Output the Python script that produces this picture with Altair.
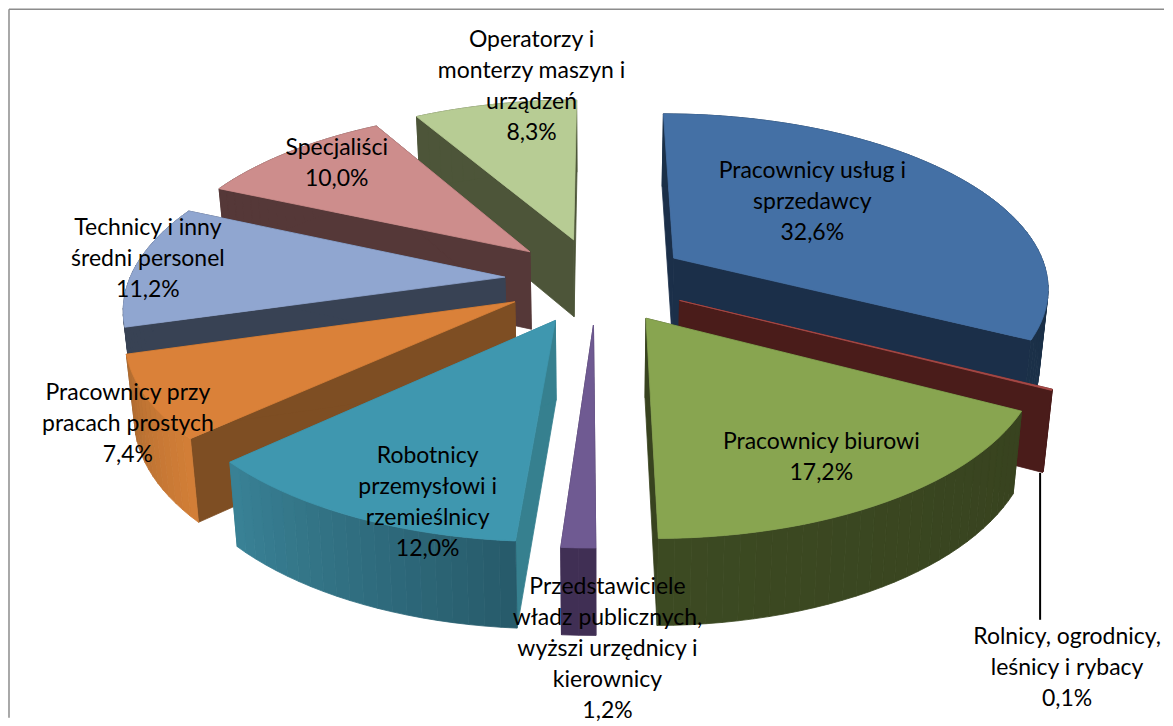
import math
import altair as alt

# ---- data
categories = ["Pracownicy usług i\nsprzedawcy", "Rolnicy, ogrodnicy,\nleśnicy i rybacy", "Pracownicy biurowi",
              "Przedstawiciele\nwładz publicznych,\nwyższi urzędnicy i\nkierownicy", "Robotnicy\nprzemysłowi i\nrzemieślnicy",
              "Pracownicy przy\npracach prostych", "Technicy i inny\nśredni personel", "Specjaliści",
              "Operatorzy i\nmonterzy maszyn i\nurządzeń"]
values = [32.6, 0.1, 17.2, 1.2, 12.0, 7.4, 11.2, 10.0, 8.3]
value_labels = ["32,6%", "0,1%", "17,2%", "1,2%", "12,0%", "7,4%", "11,2%", "10,0%", "8,3%"]

# ---- styles (top, cut face, wall start, wall end)
top_colors = ["#4470A5", "#A84A48", "#88A550", "#6F5A92", "#3F97AF", "#DA8139", "#90A6D0", "#CD8D8C", "#B7CC94"]
face_colors = ["#1B2F49", "#4A1C1A", "#38431F", "#402F54", "#36808F", "#7E4E23", "#384254", "#553838", "#4D5539"]
wall_a = ["#1B3048", "#4A1C1A", "#38431F", "#402F54", "#275B6B", "#D27E37", "#384254", "#553838", "#4D5539"]
wall_b = ["#1B3048", "#4A1C1A", "#3C4A22", "#402F54", "#3A8397", "#B06C30", "#384254", "#553838", "#4D5539"]

# ---- layout of the 3D projection (page pixels, minus the 8px margin)
CX, CY, R, Q, K = 589.0, 272.0, 376.0, 173.0, 0.155
EX, EY, ROT = 0.245, 0.25, 0.0
W, H = 1157, 710


def hex2rgb(c):
    return [int(c[i:i + 2], 16) for i in (1, 3, 5)]


def mix(a, b, t):
    ra, rb = hex2rgb(a), hex2rgb(b)
    return "#%02x%02x%02x" % tuple(round(p + (q - p) * t) for p, q in zip(ra, rb))


def project(u, v):
    w = 1 / (1 - K * v)
    return [CX + R * u * w, CY + Q * v * w]


def lower(p):
    y0 = 232.0
    return [CX + (p[0] - CX) * 0.98, p[1] + 77 + 0.034 * (p[1] - y0)]


def feature(points, color):
    return {"type": "Feature", "properties": {"fill": color},
            "geometry": {"type": "Polygon", "coordinates": [points + [points[0]]]}}


total = sum(values)
slices = []
cum = 0.0
for i, val in enumerate(values):
    a0 = math.radians(cum / total * 360 + ROT)
    a1 = math.radians((cum + val) / total * 360 + ROT)
    cum += val
    mid = (a0 + a1) / 2
    ou, ov = EX * math.sin(mid), -EY * math.cos(mid)
    n = max(2, int(math.degrees(a1 - a0) / 2))
    arc = [project(ou + math.sin(a0 + (a1 - a0) * j / n), ov - math.cos(a0 + (a1 - a0) * j / n)) for j in range(n + 1)]
    apex = project(ou, ov)
    feats = [
        feature([apex, arc[0], lower(arc[0]), lower(apex)], face_colors[i]),
        feature([apex, arc[-1], lower(arc[-1]), lower(apex)], face_colors[i]),
    ]
    for j in range(n):
        feats.append(feature([arc[j], arc[j + 1], lower(arc[j + 1]), lower(arc[j])], mix(wall_a[i], wall_b[i], j / n)))
    feats.append(feature([apex] + arc, top_colors[i]))
    slices.append((-math.cos(mid), feats))

features = [f for _, feats in sorted(slices, key=lambda s: s[0]) for f in feats]

pie = alt.Chart(alt.Data(values=features)).mark_geoshape(strokeWidth=0.8).encode(
    fill=alt.Fill("properties.fill:N", scale=None),
    stroke=alt.Stroke("properties.fill:N", scale=None),
).project(type="identity", scale=1, translate=[0, 0])

# ---- label anchors: centre of each block's first line
label_x = [805, 1060, 814, 600, 420, 120, 140, 329, 524]
label_y = [163, 629, 434, 579, 448, 385, 220, 140, 32]
labels = [{"t": f"{c}\n{v}", "x": x, "y": y} for c, v, x, y in zip(categories, value_labels, label_x, label_y)]

X = alt.X("x:Q", scale=alt.Scale(domain=[0, W], nice=False), axis=None)
Y = alt.Y("y:Q", scale=alt.Scale(domain=[H, 0], nice=False), axis=None)

text = alt.Chart(alt.Data(values=labels)).mark_text(
    font="Lato", fontSize=23, lineHeight=31, lineBreak="\n", color="#000000", align="center", baseline="middle"
).encode(x=X, y=Y, text="t:N")

leader = alt.Chart(alt.Data(values=[{"x": 1033, "y": 465, "y2": 612}])).mark_rule(color="#000000", strokeWidth=2).encode(
    x=X, y=Y, y2="y2:Q")

frame = alt.Chart(alt.Data(values=[{"x": 1, "y": 1, "x2": W, "y2": 1}, {"x": 1, "y": 1, "x2": 1, "y2": H}])).mark_rule(
    color="#8C8C8C", strokeWidth=1.5).encode(x=X, y=Y, x2="x2:Q", y2="y2:Q")

chart = alt.layer(frame, pie, leader, text).properties(width=W, height=H, padding=0).configure_view(stroke=None)
chart.save("out.html", embed_options={"renderer": "svg", "actions": False})
